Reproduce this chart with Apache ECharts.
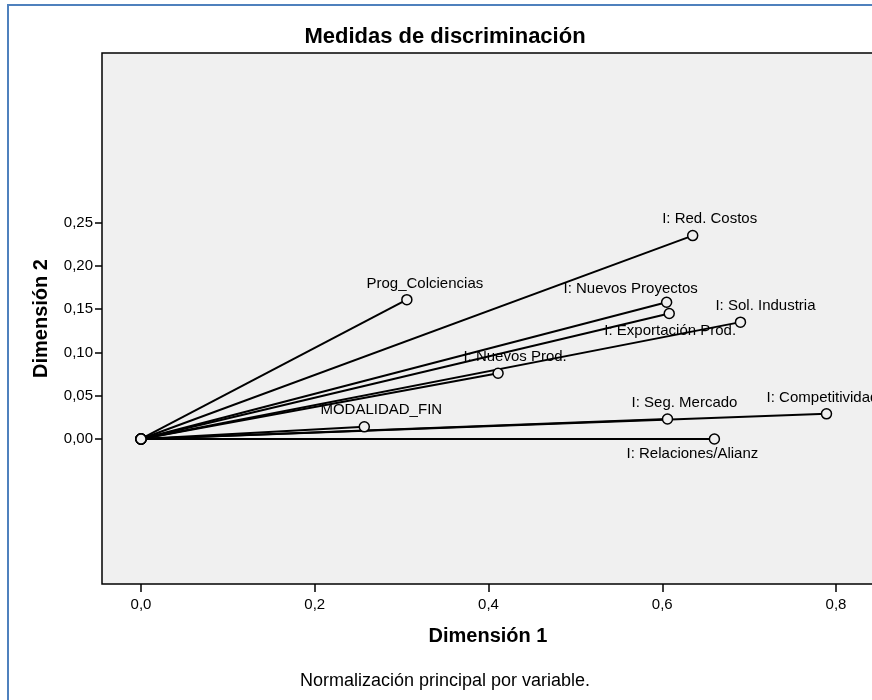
<!DOCTYPE html>
<html><head><meta charset="utf-8">
<script src="https://cdn.jsdelivr.net/npm/echarts@6/dist/echarts.min.js"></script>
<style>html,body{margin:0;padding:0;overflow:hidden;background:#fff}#c{width:880px;height:700px}</style>
</head><body><div id="c"></div><script>
const variables = ['Prog_Colciencias','I: Red. Costos','I: Nuevos Proyectos','I: Exportación Prod.','I: Sol. Industria','I: Nuevos Prod.','MODALIDAD_FIN','I: Seg. Mercado','I: Competitividad','I: Relaciones/Alianz'];
const dim1 = [0.306,0.635,0.605,0.608,0.690,0.411,0.257,0.606,0.789,0.660];
const dim2 = [0.161,0.235,0.158,0.145,0.135,0.076,0.014,0.023,0.029,0.000];
const xTicks = [0,0.2,0.4,0.6,0.8];
const yTicks = [0,0.05,0.10,0.15,0.20,0.25];

const labelOffsets = [[18,-16],[17,-17],[-36,-13],[1,17],[25,-16],[17,-16],[17,-17],[17,-16],[-4,-16],[-22,15]];
const FONT = 'Liberation Sans, Arial, sans-serif';

const series = variables.map((name, i) => ({
  type: 'line',
  name: name,
  data: [
    { value: [0, 0], label: { show: false } },
    { value: [dim1[i], dim2[i]], label: {
        show: true, position: 'inside', offset: labelOffsets[i],
        formatter: name, color: '#000', fontSize: 15, fontFamily: FONT } }
  ],
  symbol: 'circle',
  symbolSize: 10,
  itemStyle: { color: '#f0f0f0', borderColor: '#000', borderWidth: 1.5 },
  lineStyle: { color: '#000', width: 2 },
  emphasis: { disabled: true },
  silent: true,
  animation: false
}));

const chart = echarts.init(document.getElementById('c'));
chart.setOption({
  animation: false,
  graphic: [
    { type: 'rect', shape: { x: 8, y: 5, width: 1000, height: 1000 },
      style: { fill: 'none', stroke: '#4f81bd', lineWidth: 2 }, z: -10 },
    { type: 'text', x: 445, y: 37,
      style: { text: 'Medidas de discriminación', font: 'bold 22px ' + FONT, fill: '#000', textAlign: 'center', textVerticalAlign: 'middle' } },
    { type: 'text', x: 445, y: 681,
      style: { text: 'Normalización principal por variable.', font: '18px ' + FONT, fill: '#000', textAlign: 'center', textVerticalAlign: 'middle' } }
  ],
  grid: { left: 102, top: 53, width: 772, height: 531, show: true, backgroundColor: '#f0f0f0', borderColor: '#000', borderWidth: 1.5, containLabel: false },
  xAxis: {
    type: 'value', min: -0.0449, max: 0.8437,
    name: 'Dimensión 1', nameLocation: 'middle', nameGap: 42,
    nameTextStyle: { fontSize: 20, fontWeight: 'bold', color: '#000', fontFamily: FONT },
    axisLine: { show: false, onZero: false },
    splitLine: { show: false },
    axisTick: { show: true, customValues: xTicks, length: 8, lineStyle: { color: '#000', width: 1.5 } },
    axisLabel: { customValues: xTicks, color: '#000', fontSize: 15, fontFamily: FONT, margin: 13,
      formatter: v => v.toFixed(1).replace('.', ',') }
  },
  yAxis: {
    type: 'value', min: -0.1676, max: 0.446,
    name: 'Dimensión 2', nameLocation: 'middle', nameGap: 51,
    nameTextStyle: { fontSize: 20, fontWeight: 'bold', color: '#000', fontFamily: FONT },
    axisLine: { show: false, onZero: false },
    splitLine: { show: false },
    axisTick: { show: true, customValues: yTicks, length: 7, lineStyle: { color: '#000', width: 1.5 } },
    axisLabel: { customValues: yTicks, color: '#000', fontSize: 15, fontFamily: FONT, margin: 9,
      formatter: v => v.toFixed(2).replace('.', ',') }
  },
  series: series
});
</script></body></html>
